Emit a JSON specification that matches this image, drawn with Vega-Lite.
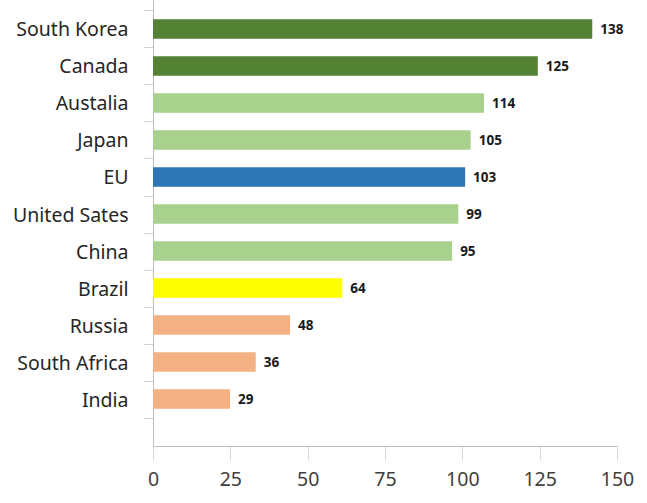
{
  "$schema": "https://vega.github.io/schema/vega-lite/v6.json",
  "width": 464,
  "height": 446,
  "autosize": "none",
  "padding": {"left": 153, "top": 0, "right": 30, "bottom": 57},
  "background": "white",
  "config": {"view": {"stroke": null}, "font": "Noto Sans"},
  "data": {"values": [
    {"country": "South Korea", "value": 142.0, "label": "138", "group": "top"},
    {"country": "Canada", "value": 124.4, "label": "125", "group": "top"},
    {"country": "Austalia", "value": 107.0, "label": "114", "group": "high"},
    {"country": "Japan", "value": 102.7, "label": "105", "group": "high"},
    {"country": "EU", "value": 100.9, "label": "103", "group": "EU"},
    {"country": "United Sates", "value": 98.7, "label": "99", "group": "high"},
    {"country": "China", "value": 96.7, "label": "95", "group": "high"},
    {"country": "Brazil", "value": 61.2, "label": "64", "group": "mid"},
    {"country": "Russia", "value": 44.3, "label": "48", "group": "low"},
    {"country": "South Africa", "value": 33.2, "label": "36", "group": "low"},
    {"country": "India", "value": 24.9, "label": "29", "group": "low"}
  ]},
  "encoding": {
    "y": {
      "field": "country", "type": "nominal", "sort": null,
      "scale": {
        "domain": ["South Korea", "Canada", "Austalia", "Japan", "EU", "United Sates", "China", "Brazil", "Russia", "South Africa", "India", ""],
        "paddingInner": 0.47, "paddingOuter": 0.262, "align": 0.99
      },
      "axis": {
        "title": null, "tickSize": 9, "tickColor": "#d0d0d0", "tickOffset": -18.5,
        "labelOffset": 19.5,
        "domainColor": "#bfbfbf", "labelFontSize": 19.5, "labelColor": "#262626",
        "labelPadding": 16, "labelFont": "Noto Sans"
      }
    }
  },
  "layer": [
    {
      "mark": {"type": "bar"},
      "encoding": {
        "x": {
          "field": "value", "type": "quantitative",
          "scale": {"domain": [0, 150], "nice": false},
          "axis": {
            "title": null, "values": [0, 25, 50, 75, 100, 125, 150], "grid": false,
            "tickSize": 14, "tickColor": "#d9d9d9", "domainColor": "#bfbfbf",
            "labelFontSize": 19.5, "labelColor": "#404040", "labelPadding": 10,
            "labelFlush": false, "labelFont": "Noto Sans"
          }
        },
        "color": {
          "field": "group", "type": "nominal", "legend": null,
          "scale": {"domain": ["top", "high", "EU", "mid", "low"],
                    "range": ["#548235", "#a9d18e", "#2e75b6", "#ffff00", "#f4b183"]}
        }
      }
    },
    {
      "mark": {"type": "text", "align": "left", "dx": 8, "dy": 1, "fontWeight": "bold", "fontSize": 13.5, "color": "#1a1a1a"},
      "encoding": {
        "x": {"field": "value", "type": "quantitative"},
        "text": {"field": "label"}
      }
    }
  ]
}
